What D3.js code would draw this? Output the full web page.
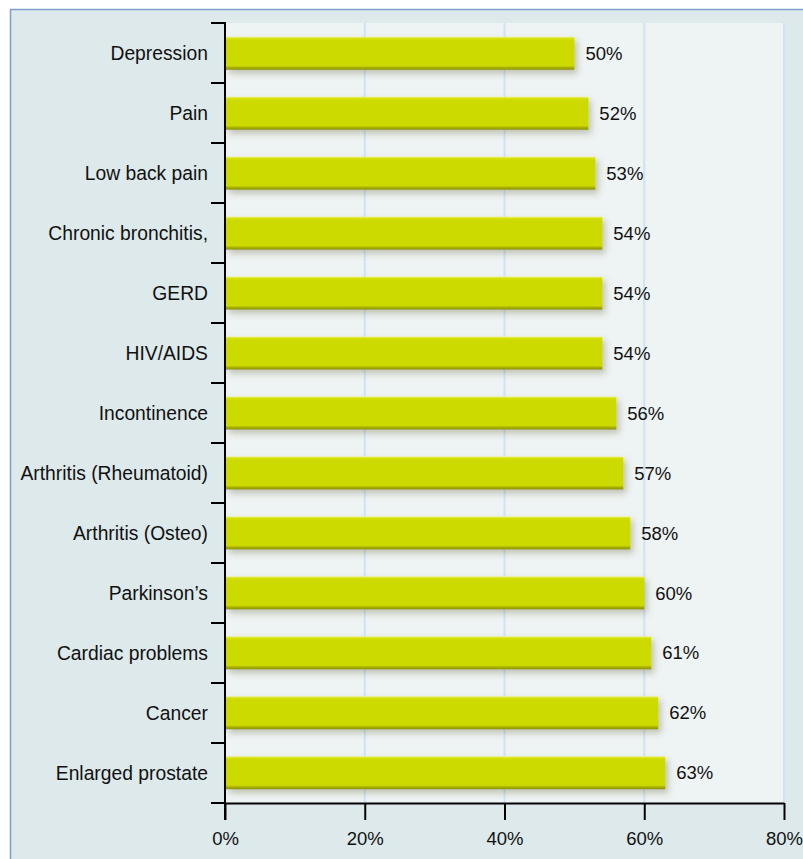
<!DOCTYPE html>
<html><head><meta charset="utf-8">
<script src="https://cdn.jsdelivr.net/npm/d3@7"></script>
<style>
html,body{margin:0;padding:0;background:#fff;}
svg{display:block;}
</style></head>
<body>
<script>
const categories = ["Depression","Pain","Low back pain","Chronic bronchitis,","GERD","HIV/AIDS","Incontinence","Arthritis (Rheumatoid)","Arthritis (Osteo)","Parkinson\u2019s","Cardiac problems","Cancer","Enlarged prostate"];
const values = [50,52,53,54,54,54,56,57,58,60,61,62,63];
const xTicks = [0,20,40,60,80];

const W = 803, H = 859;
const FONT = "Liberation Sans, Arial, sans-serif";
const svg = d3.select("body").append("svg").attr("width", W).attr("height", H);

const defs = svg.append("defs");
const grad = defs.append("linearGradient").attr("id","barGrad").attr("x1",0).attr("y1",0).attr("x2",0).attr("y2",1);
[[0,"#eef08a"],[0.06,"#d4e000"],[0.12,"#ccda00"],[0.88,"#ccda00"],[0.93,"#aab300"],[1,"#8c9200"]].forEach(([o,c])=>grad.append("stop").attr("offset",o).attr("stop-color",c));
const filt = defs.append("filter").attr("id","shadow").attr("x","-5%").attr("y","-30%").attr("width","115%").attr("height","180%");
filt.append("feDropShadow").attr("dx",3).attr("dy",4).attr("stdDeviation",3).attr("flood-color","#6b6b3a").attr("flood-opacity",0.35);

// outer frame
svg.append("rect").attr("x",10).attr("y",9).attr("width",W-10).attr("height",H-9).attr("fill","#dde9eb");
svg.append("line").attr("x1",10).attr("x2",W).attr("y1",9.5).attr("y2",9.5).attr("stroke","#7f9fcc").attr("stroke-width",1.5);
svg.append("line").attr("x1",10.5).attr("x2",10.5).attr("y1",9).attr("y2",H).attr("stroke","#7f9fcc").attr("stroke-width",1.5);

const x = d3.scaleLinear().domain([0,80]).range([225,784]);
const y = d3.scaleBand().domain(categories).range([23,803]).paddingInner(0.45).paddingOuter(0.23);

// plot bg
svg.append("rect").attr("x",x(0)).attr("y",23).attr("width",x(80)-x(0)).attr("height",803-23).attr("fill","#eef3f4");

// gridlines
svg.append("g").selectAll("line").data(xTicks.slice(1)).join("line")
  .attr("x1",d=>x(d)).attr("x2",d=>x(d)).attr("y1",23).attr("y2",803)
  .attr("stroke","#cfe2f7").attr("stroke-width",2);

// bars
svg.append("g").selectAll("rect").data(values).join("rect")
  .attr("x",x(0)+1).attr("y",(d,i)=>y(categories[i]))
  .attr("width",d=>x(d)-x(0)-1).attr("height",y.bandwidth())
  .attr("fill","url(#barGrad)").attr("filter","url(#shadow)");

// value labels
svg.append("g").selectAll("text").data(values).join("text")
  .attr("x",d=>x(d)+11).attr("y",(d,i)=>y(categories[i])+y.bandwidth()/2)
  .attr("dy","0.36em").attr("font-family",FONT).attr("font-size",18.5).attr("fill","#111")
  .text(d=>d+"%");

// left axis: ticks at band boundaries
const bounds = d3.range(categories.length+1).map(i=>23 + i*(780/categories.length));
const ax = svg.append("g");
ax.selectAll("line.tk").data(bounds).join("line").attr("class","tk")
  .attr("x1",211).attr("x2",x(0)).attr("y1",d=>d).attr("y2",d=>d).attr("stroke","#000").attr("stroke-width",2);
ax.append("line").attr("x1",x(0)).attr("x2",x(0)).attr("y1",22).attr("y2",820).attr("stroke","#000").attr("stroke-width",2);
ax.selectAll("text").data(categories).join("text")
  .attr("x",208).attr("y",(d,i)=>bounds[i]+ (780/categories.length)/2).attr("dy","0.36em")
  .attr("text-anchor","end").attr("font-family",FONT).attr("font-size",19.3).attr("fill","#111")
  .text(d=>d);

// bottom axis
const bx = svg.append("g").attr("transform","translate(0,803)");
bx.call(d3.axisBottom(x).tickValues(xTicks).tickFormat(d=>d+"%").tickSize(17).tickSizeOuter(0));
bx.select(".domain").attr("stroke","#000").attr("stroke-width",2);
bx.selectAll(".tick line").attr("stroke","#000").attr("stroke-width",2);
bx.selectAll(".tick text").attr("font-family",FONT).attr("font-size",18.5).attr("fill","#111").attr("dy","1.2em");
</script>
</body></html>
